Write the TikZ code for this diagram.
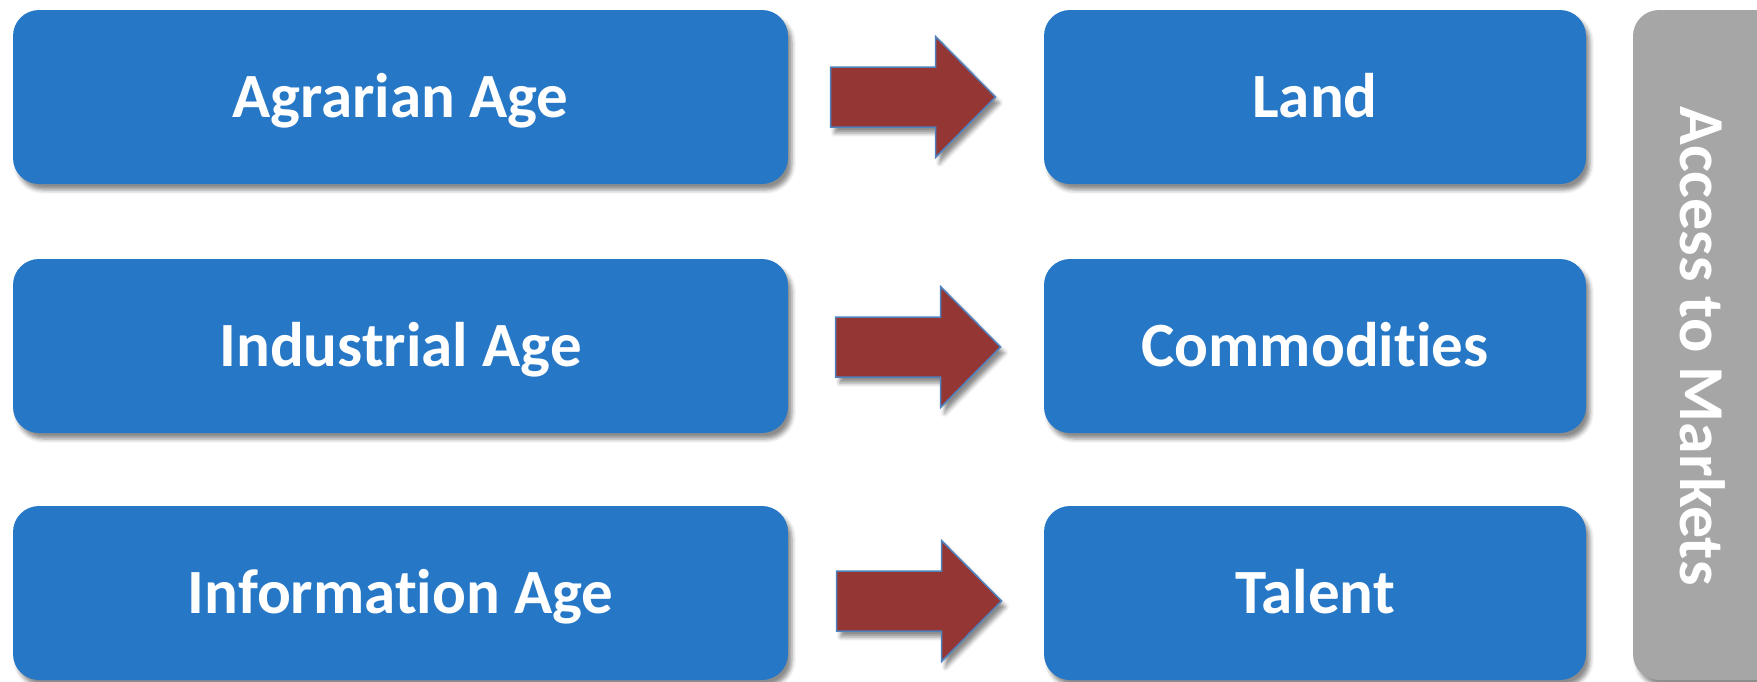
\documentclass[tikz,border=0pt]{standalone}
\usepackage{fontspec}
\setmainfont{Carlito}[Ligatures=NoCommon]
\usetikzlibrary{calc,shadows.blur}
\definecolor{boxblue}{HTML}{2678C6}
\definecolor{arrowred}{HTML}{943634}
\definecolor{arrowedge}{HTML}{4F81BD}
\definecolor{bargray}{HTML}{A6A6A6}
\begin{document}
\begin{tikzpicture}[x=1pt,y=-1pt,
  softshadow/.style={blur shadow={shadow xshift=4pt, shadow yshift=-6pt,
      shadow blur radius=4pt, shadow opacity=45}},
  boxtext/.style={text=white, font=\fontsize{63}{70}\selectfont\bfseries,
      text height=40pt, text depth=0pt, inner sep=0pt},
  agebox/.style={boxtext, softshadow, fill=boxblue, rounded corners=26pt,
      minimum width=775pt, minimum height=174pt},
  resourcebox/.style={boxtext, softshadow, fill=boxblue, rounded corners=26pt,
      minimum width=542pt, minimum height=174pt},
  arrowbody/.style={softshadow, fill=arrowred, draw=arrowedge, line width=1.5pt,
      line join=miter},
  blockarrow/.pic={
    \draw[arrowbody] (-82.5,-30) -- (22.5,-30) -- (22.5,-60.5) -- (82.5,0)
      -- (22.5,60.5) -- (22.5,30) -- (-82.5,30) -- cycle;
  }]
\useasboundingbox (0,0) rectangle (1757,681);

% side bar
\node[softshadow, fill=bargray, rounded corners=26pt, minimum width=162pt,
      minimum height=670pt, inner sep=0pt] (markets) at (1714,345) {};
\node[text=white, font=\fontsize{64}{70}\selectfont\bfseries, rotate=-90,
      anchor=base, inner sep=0pt] (marketslabel) at (1680,346) {Access to Markets};

% eras
\node[agebox] (agrarian)    at (400.5,97)  {Agrarian Age};
\node[agebox] (industrial)  at (400.5,346) {Industrial Age};
\node[agebox] (information) at (400.5,593) {Information Age};

% resources
\node[resourcebox] (land)        at (1315,97)  {Land};
\node[resourcebox] (commodities) at (1315,346) {Commodities};
\node[resourcebox] (talent)      at (1315,593) {Talent};

% block arrows between each pair
\pic (arrowA) at ($(agrarian.east)!0.5!(land.west)+(-3,0)$) {blockarrow};
\pic (arrowB) at ($(industrial.east)!0.5!(commodities.west)+(2,1)$) {blockarrow};
\pic (arrowC) at ($(information.east)!0.5!(talent.west)+(3,8)$) {blockarrow};
\end{tikzpicture}
\end{document}
